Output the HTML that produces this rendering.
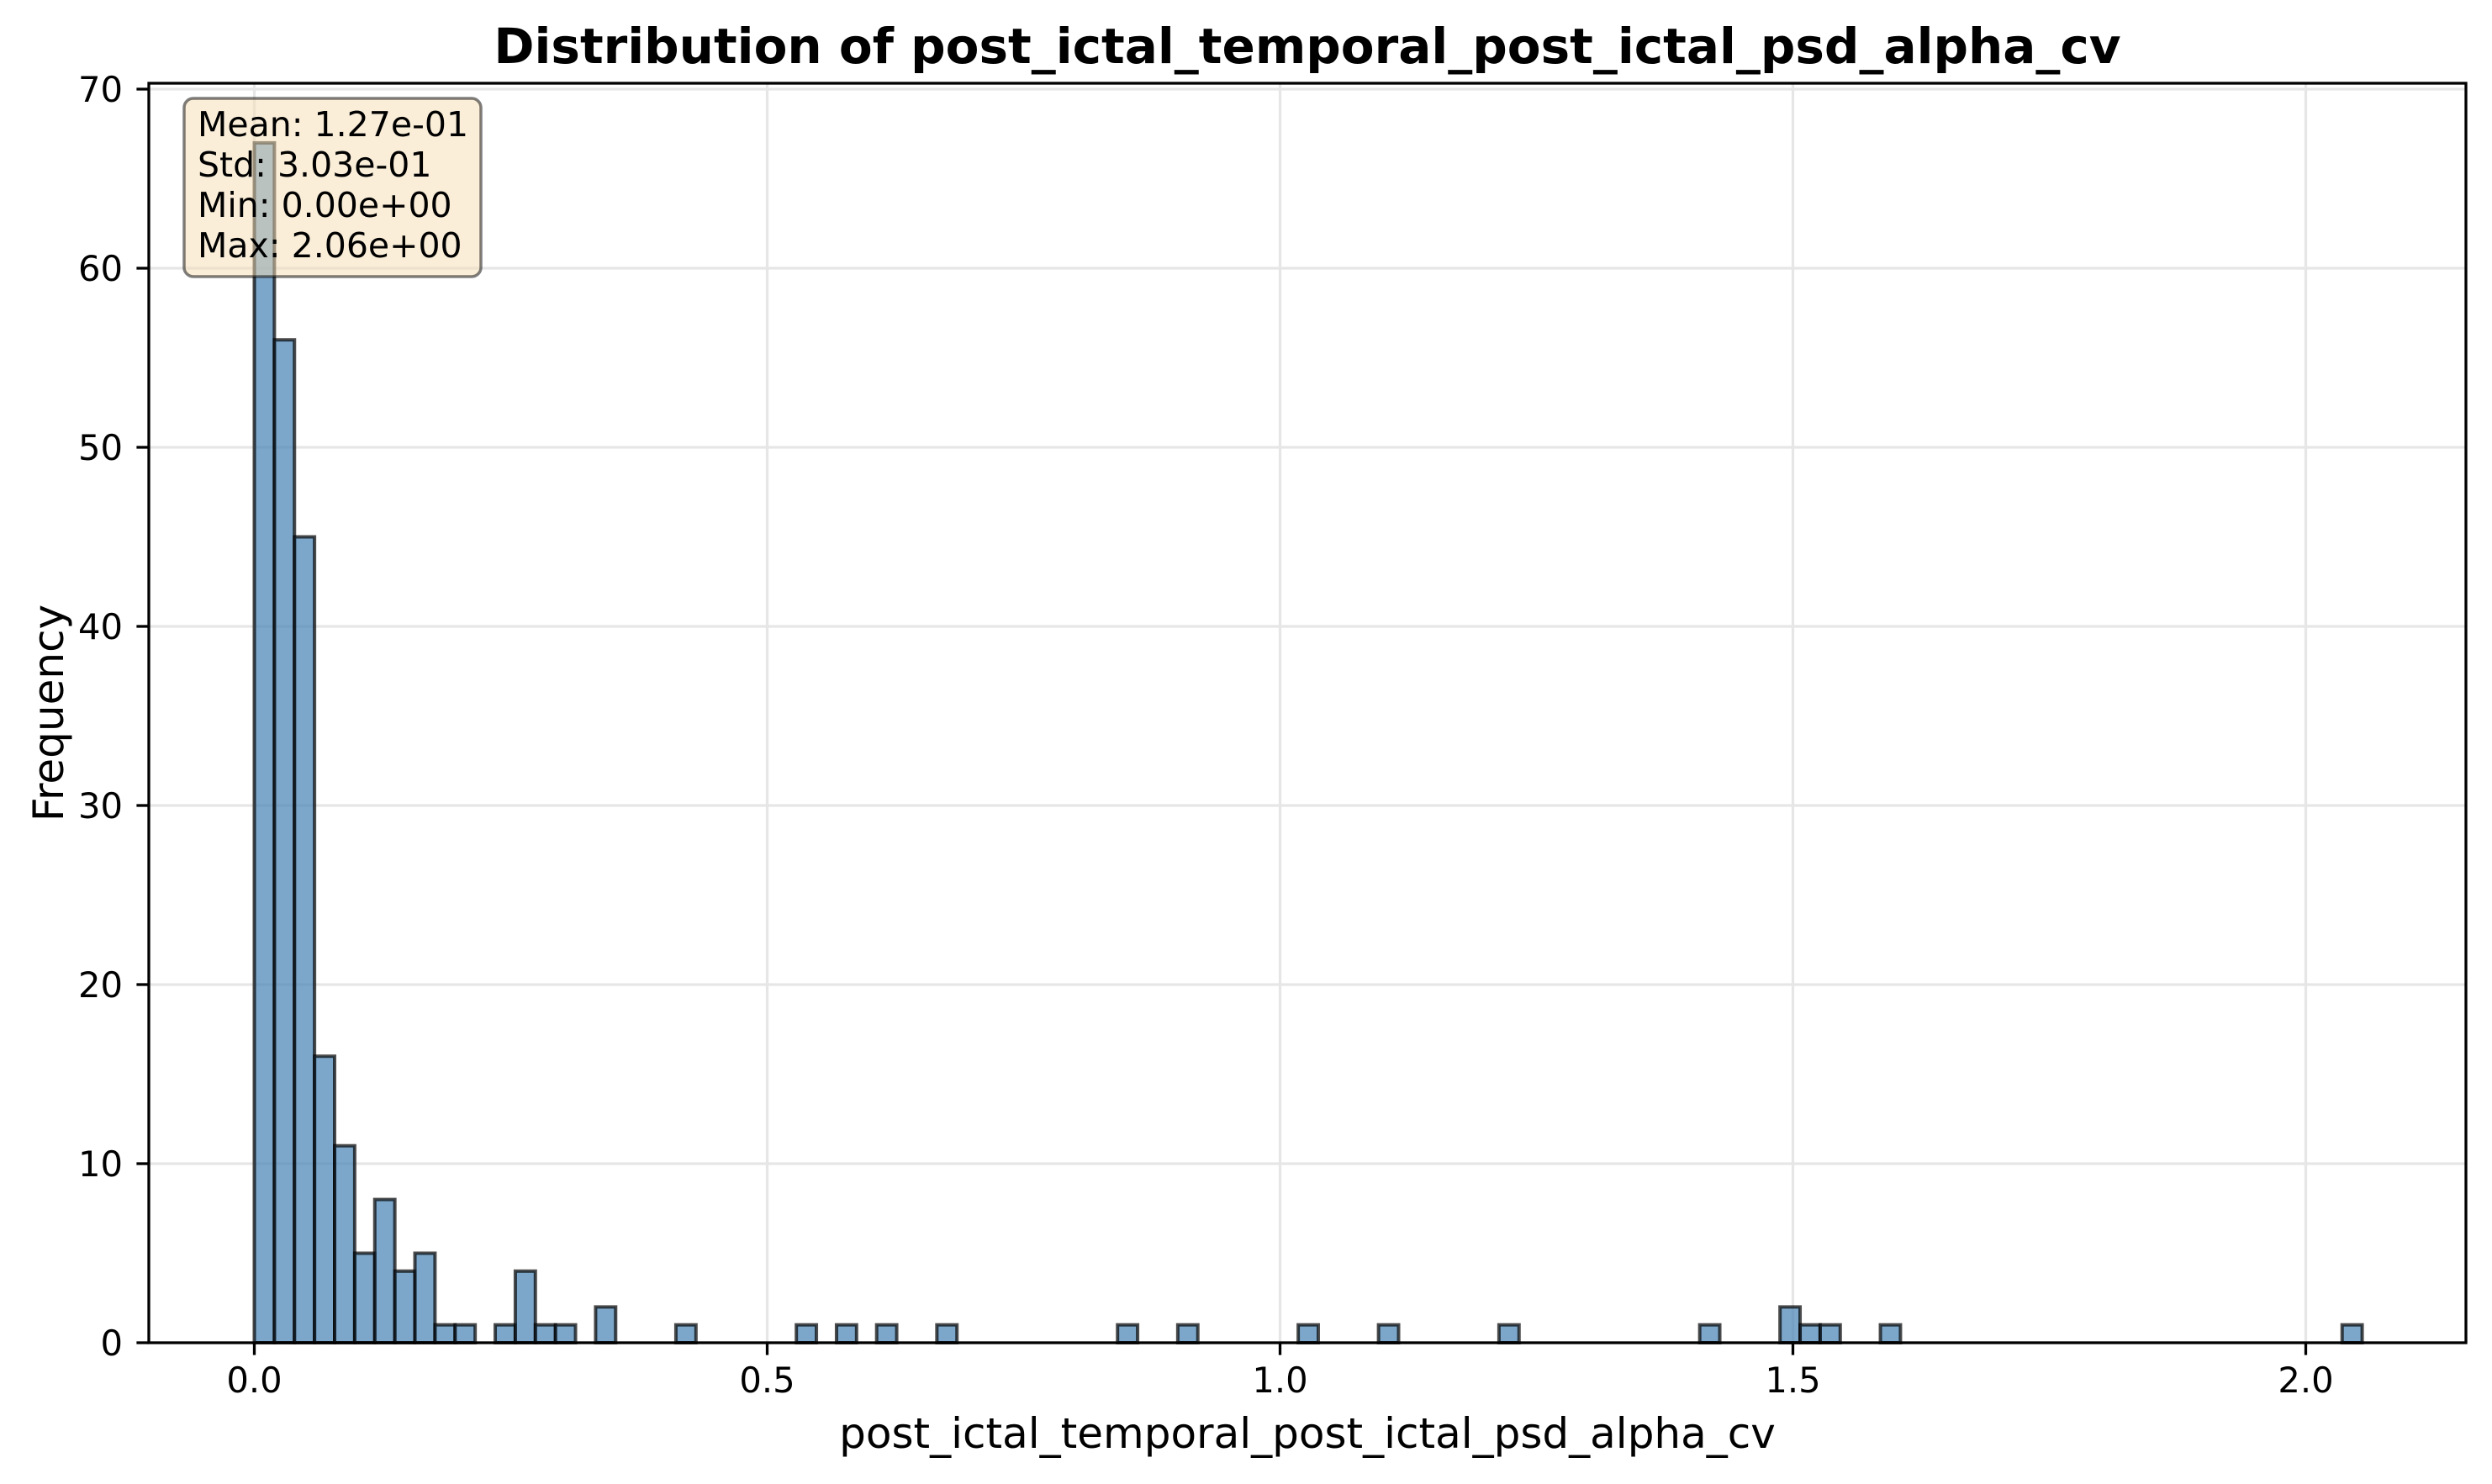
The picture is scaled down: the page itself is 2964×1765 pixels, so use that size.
<!DOCTYPE html>
<html><head><meta charset="utf-8">
<style>
html,body{margin:0;padding:0;background:#fff;}
svg{display:block;font-family:"DejaVu Sans","Liberation Sans",sans-serif;}
</style></head>
<body>
<svg id="chart" width="2964" height="1765" viewBox="0 0 2964 1765" xmlns="http://www.w3.org/2000/svg">
  <rect x="0" y="0" width="2964" height="1765" fill="#fff"/>
  <g id="grid"></g>
  <g id="bars"></g>
  <g id="axes"></g>
  <g>
    <rect x="219" y="117" width="353" height="212" rx="11" ry="11" fill="rgba(245,222,179,0.5)" stroke="rgba(0,0,0,0.5)" stroke-width="3.5"/>
    <text x="235" y="162" font-size="41" fill="#000">Mean: 1.27e-01</text>
    <text x="235" y="210" font-size="41" fill="#000">Std: 3.03e-01</text>
    <text x="235" y="258" font-size="41" fill="#000">Min: 0.00e+00</text>
    <text x="235" y="306" font-size="41" fill="#000">Max: 2.06e+00</text>
  </g>
  <text x="1555" y="75" font-size="58" font-weight="bold" text-anchor="middle">Distribution of post_ictal_temporal_post_ictal_psd_alpha_cv</text>
  <text x="1555" y="1722" font-size="50" text-anchor="middle">post_ictal_temporal_post_ictal_psd_alpha_cv</text>
  <text x="0" y="0" font-size="50" text-anchor="middle" transform="translate(75,848) rotate(-90)">Frequency</text>
</svg>
<script>
const binStart = 0;
const binWidth = 2.055 / 105;
const counts = [67,56,45,16,11,5,8,4,5,1,1,0,1,4,1,1,0,2,0,0,
0,1,0,0,0,0,0,1,0,1,0,1,0,0,1,0,0,0,0,0,
0,0,0,1,0,0,1,0,0,0,0,0,1,0,0,0,1,0,0,0,
0,0,1,0,0,0,0,0,0,0,0,0,1,0,0,0,2,1,1,0,
0,1,0,0,0,0,0,0,0,0,0,0,0,0,0,0,0,0,0,0,
0,0,0,0,1];
const xTicks = [0, 0.5, 1.0, 1.5, 2.0];
const xTickLabels = ["0.0","0.5","1.0","1.5","2.0"];
const yTicks = [0,10,20,30,40,50,60,70];
const yTickLabels = ["0","10","20","30","40","50","60","70"];

const NS = "http://www.w3.org/2000/svg";
const L = 177, R = 2933, T = 99, B = 1597;
function xs(v){ return 302.5 + v * 1220; }
function ys(v){ return 1597 - v * 21.3; }
function mk(tag, attrs, parent){
  const e = document.createElementNS(NS, tag);
  for (const k in attrs) e.setAttribute(k, attrs[k]);
  parent.appendChild(e);
  return e;
}
const grid = document.getElementById('grid');
const bars = document.getElementById('bars');
const axes = document.getElementById('axes');

xTicks.forEach((t) => {
  const g = mk('line', {x1: xs(t), x2: xs(t), y1: T, y2: B, stroke: '#e6e6e6', 'stroke-width': 3.3}, grid);
  
  
});
yTicks.forEach((t) => {
  const g = mk('line', {x1: L, x2: R, y1: ys(t), y2: ys(t), stroke: '#e6e6e6', 'stroke-width': 3.3}, grid);
  
  
});

counts.forEach((c, i) => {
  if (c <= 0) return;
  const x0 = xs(binStart + i * binWidth), x1 = xs(binStart + (i + 1) * binWidth);
  const r = mk('rect', {x: x0, y: ys(c), width: x1 - x0, height: ys(0) - ys(c),
    fill: 'rgba(70,130,180,0.7)', stroke: 'rgba(0,0,0,0.7)', 'stroke-width': 4}, bars);
  
  
});

const frame = mk('rect', {x: L, y: T, width: R - L, height: B - T, fill: 'none', stroke: '#000', 'stroke-width': 3.3}, axes);



xTicks.forEach((t, i) => {
  const tk = mk('line', {x1: xs(t), x2: xs(t), y1: B, y2: B + 14.6, stroke: '#000', 'stroke-width': 3.3}, axes);
  
  
  const lb = mk('text', {x: xs(t), y: 1656, 'font-size': 41.7, 'text-anchor': 'middle'}, axes);
  lb.textContent = xTickLabels[i];
  
  
});
yTicks.forEach((t, i) => {
  const tk = mk('line', {x1: L - 14.6, x2: L, y1: ys(t), y2: ys(t), stroke: '#000', 'stroke-width': 3.3}, axes);
  
  
  const lb = mk('text', {x: 146, y: ys(t) + 15, 'font-size': 41.7, 'text-anchor': 'end'}, axes);
  lb.textContent = yTickLabels[i];
  
  
});
</script>
</body></html>
